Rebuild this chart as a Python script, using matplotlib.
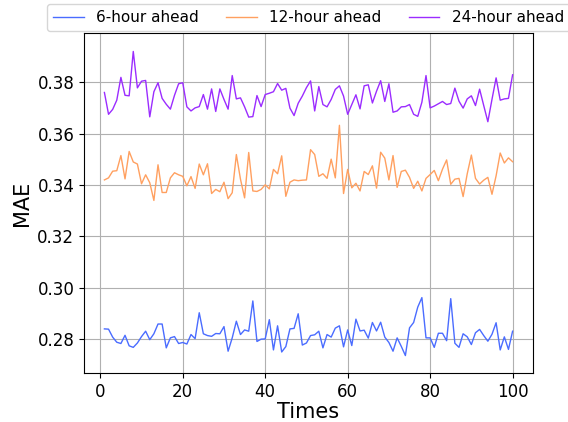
import matplotlib
matplotlib.use("Agg")
import matplotlib.pyplot as plt
import numpy as np

times = list(range(1, 101))

mae_6h = [
    0.2839, 0.2838, 0.2807, 0.2787, 0.2782, 0.2814, 0.2773, 0.2767, 0.2784, 0.2809,
    0.2830, 0.2797, 0.2820, 0.2858, 0.2858, 0.2765, 0.2804, 0.2809, 0.2782, 0.2786,
    0.2780, 0.2817, 0.2801, 0.2902, 0.2820, 0.2813, 0.2810, 0.2821, 0.2820, 0.2848,
    0.2752, 0.2804, 0.2869, 0.2817, 0.2835, 0.2830, 0.2948, 0.2790, 0.2799, 0.2800,
    0.2875, 0.2757, 0.2851, 0.2749, 0.2770, 0.2839, 0.2841, 0.2898, 0.2776, 0.2784,
    0.2813, 0.2816, 0.2830, 0.2765, 0.2817, 0.2807, 0.2842, 0.2851, 0.2769, 0.2835,
    0.2774, 0.2877, 0.2831, 0.2834, 0.2803, 0.2864, 0.2831, 0.2865, 0.2807, 0.2786,
    0.2752, 0.2804, 0.2771, 0.2735, 0.2843, 0.2864, 0.2924, 0.2961, 0.2804, 0.2804,
    0.2767, 0.2822, 0.2822, 0.2793, 0.2957, 0.2783, 0.2767, 0.2820, 0.2808, 0.2778,
    0.2824, 0.2837, 0.2813, 0.2791, 0.2818, 0.2863, 0.2757, 0.2808, 0.2759, 0.2830,
]

mae_12h = [
    0.3420, 0.3428, 0.3454, 0.3456, 0.3515, 0.3424, 0.3531, 0.3490, 0.3482, 0.3405,
    0.3440, 0.3409, 0.3340, 0.3479, 0.3371, 0.3371, 0.3428, 0.3448, 0.3440, 0.3434,
    0.3397, 0.3433, 0.3387, 0.3482, 0.3440, 0.3483, 0.3367, 0.3383, 0.3374, 0.3411,
    0.3347, 0.3370, 0.3519, 0.3423, 0.3350, 0.3527, 0.3377, 0.3375, 0.3383, 0.3401,
    0.3385, 0.3461, 0.3444, 0.3514, 0.3356, 0.3411, 0.3420, 0.3417, 0.3419, 0.3420,
    0.3538, 0.3519, 0.3434, 0.3444, 0.3426, 0.3501, 0.3428, 0.3633, 0.3367, 0.3461,
    0.3389, 0.3407, 0.3377, 0.3453, 0.3441, 0.3475, 0.3388, 0.3528, 0.3505, 0.3420,
    0.3515, 0.3391, 0.3453, 0.3458, 0.3430, 0.3387, 0.3415, 0.3377, 0.3426, 0.3441,
    0.3457, 0.3417, 0.3462, 0.3498, 0.3403, 0.3423, 0.3426, 0.3355, 0.3444, 0.3517,
    0.3426, 0.3404, 0.3419, 0.3430, 0.3364, 0.3436, 0.3525, 0.3486, 0.3506, 0.3491,
]

mae_24h = [
    0.3761, 0.3676, 0.3695, 0.3731, 0.3820, 0.3750, 0.3748, 0.3921, 0.3779, 0.3805,
    0.3808, 0.3666, 0.3764, 0.3799, 0.3738, 0.3715, 0.3696, 0.3750, 0.3795, 0.3799,
    0.3705, 0.3689, 0.3701, 0.3706, 0.3753, 0.3696, 0.3775, 0.3687, 0.3775, 0.3734,
    0.3696, 0.3827, 0.3736, 0.3740, 0.3705, 0.3665, 0.3667, 0.3749, 0.3706, 0.3753,
    0.3758, 0.3764, 0.3796, 0.3770, 0.3777, 0.3700, 0.3671, 0.3719, 0.3747, 0.3780,
    0.3806, 0.3689, 0.3784, 0.3714, 0.3705, 0.3734, 0.3773, 0.3787, 0.3747, 0.3676,
    0.3714, 0.3752, 0.3697, 0.3787, 0.3791, 0.3720, 0.3766, 0.3807, 0.3726, 0.3795,
    0.3684, 0.3689, 0.3705, 0.3706, 0.3714, 0.3676, 0.3668, 0.3723, 0.3827, 0.3701,
    0.3708, 0.3717, 0.3726, 0.3714, 0.3718, 0.3778, 0.3727, 0.3700, 0.3736, 0.3748,
    0.3710, 0.3774, 0.3710, 0.3647, 0.3734, 0.3818, 0.3731, 0.3736, 0.3738, 0.3830,
]

labels = ["6-hour ahead", "12-hour ahead", "24-hour ahead"]
colors = ["#4a6cff", "#ffa060", "#9b2cff"]

fig = plt.figure(figsize=(5.68, 4.22), dpi=100)
ax = fig.add_axes([84 / 568, (422 - 373) / 422, 449 / 568, (373 - 33) / 422])

for vals, lab, c in zip([mae_6h, mae_12h, mae_24h], labels, colors):
    ax.plot(times, vals, color=c, lw=1.0, label=lab)

ax.set_ylim(0.2667, 0.3993)
ax.set_yticks([0.28, 0.30, 0.32, 0.34, 0.36, 0.38])
ax.set_xticks([0, 20, 40, 60, 80, 100])
ax.grid(True, color="#b0b0b0", lw=0.8)
ax.tick_params(labelsize=12)
ax.set_xlabel("Times", fontsize=15, labelpad=1)
ax.set_ylabel("MAE", fontsize=15)

ax.legend(loc="lower center", bbox_to_anchor=(0.5, 1.0), ncol=3, fontsize=11,
          handlelength=2, columnspacing=1.8, borderaxespad=0.1)

fig.savefig("out.png", dpi=100)
